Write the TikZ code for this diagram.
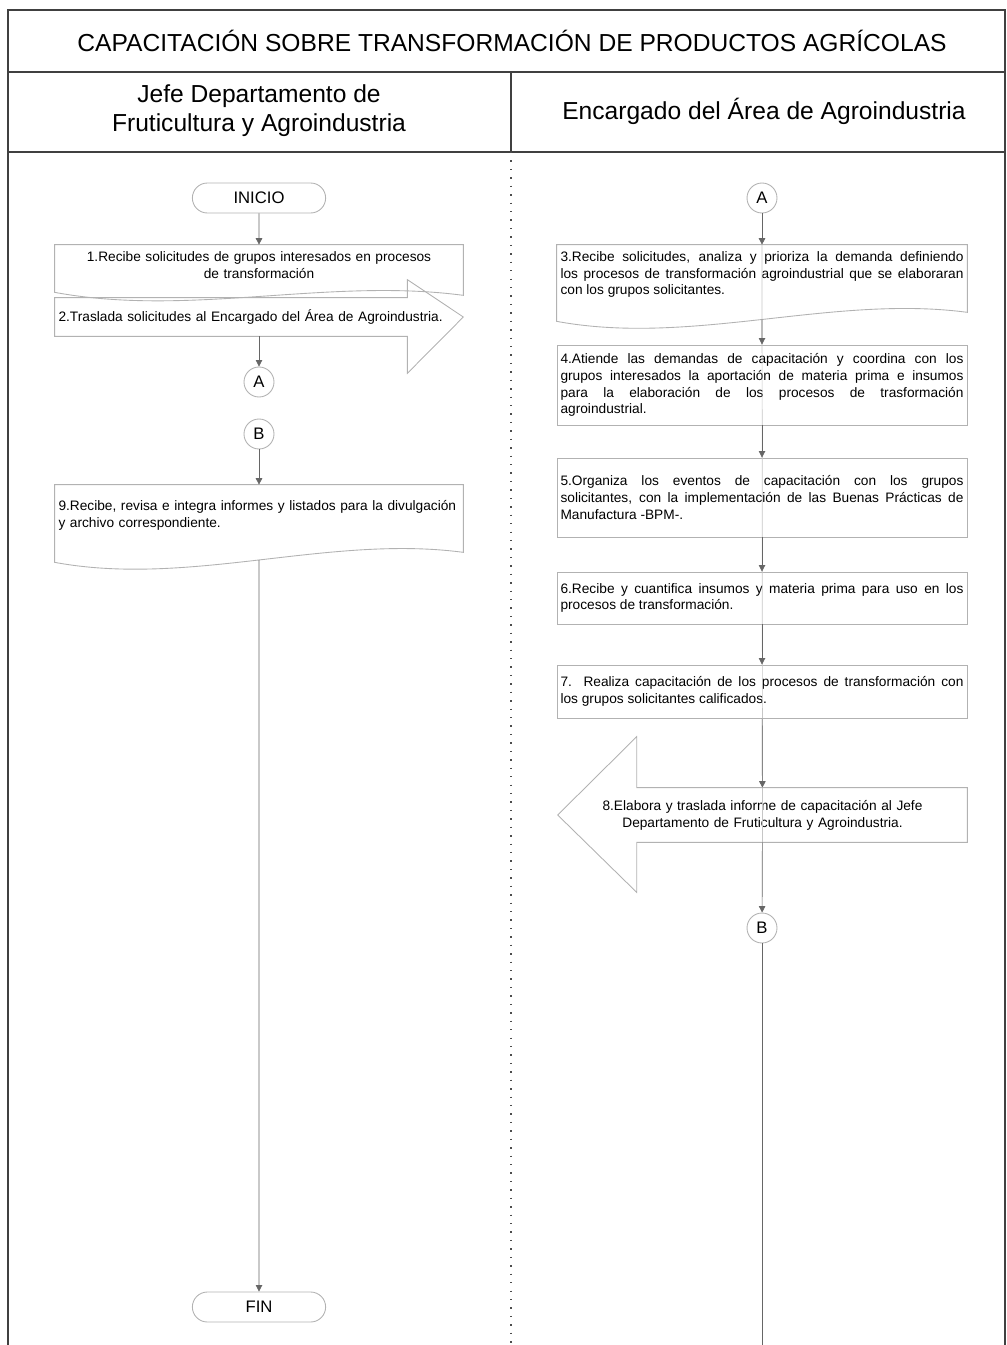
\documentclass[tikz,border=0pt]{standalone}
\usepackage{fontspec}
\setmainfont{Liberation Sans}
\usetikzlibrary{arrows.meta,calc,shapes.misc}

% document symbol: node outline with a wavy bottom edge
\newcommand{\docwave}[3]{%
  \draw[box] (#1.north west) -- (#1.north east) -- ($(#1.south east)+(0,#2)$)
    .. controls +(-135,-18) and +(135,25) .. ($(#1.south west)+(0,#3)$)
    coordinate[pos=0.5] (#1-w) -- cycle;}

\begin{document}
\begin{tikzpicture}[x=0.02cm, y=-0.02cm,
    frame/.style={draw=black!75, line width=0.9pt},
    divider/.style={draw=black!70, line width=0.8pt, dash pattern=on 0.8pt off 4pt},
    box/.style={draw=gray!60, line width=0.5pt},
    txt/.style={font=\fontsize{7.8}{9.6}\selectfont, inner xsep=2pt, inner ysep=0pt},
    lbox/.style={txt, minimum width=8.16cm, text width=8.02cm},
    rbox/.style={txt, minimum width=8.2cm, text width=8.06cm, align=justify},
    terminal/.style={box, rounded rectangle, minimum width=2.9cm, minimum height=0.6cm, font=\fontsize{9.5}{11}\selectfont},
    conn/.style={box, circle, minimum size=0.6cm, inner sep=0pt, font=\fontsize{9.5}{11}\selectfont},
    flow/.style={draw=gray!80!black, line width=0.4pt, -{Triangle[length=1.3mm,width=1.3mm]}},
    spine/.style={draw=gray!45, line width=0.4pt},
]
\useasboundingbox (0,0) rectangle (1007,1345);

% frame and lanes
\draw[frame] (8,1345) -- (8,10) -- (1005,10) -- (1005,1345);
\draw[frame] (8,72) -- (1005,72);
\draw[frame] (8,152) -- (1005,152);
\draw[frame] (511,72) -- (511,152);
\draw[divider] (511,152) -- (511,1345);

\node[font=\fontsize{14}{17}\selectfont] (title) at (512,41) {CAPACITACIÓN SOBRE TRANSFORMACIÓN DE PRODUCTOS AGRÍCOLAS};
\node[align=center, font=\fontsize{14}{16.4}\selectfont] (hleft) at (259,111) {Jefe Departamento de\\Fruticultura y Agroindustria};
\node[font=\fontsize{14}{16.4}\selectfont] (hright) at (764,111) {Encargado del Área de Agroindustria};

% left lane
\node[terminal] (inicio) at (259,198) {INICIO};
\node[lbox, align=center, minimum height=0.8cm] (l1) at (259,265) {1.Recibe solicitudes de grupos interesados en procesos\\de transformación};
\docwave{l1}{10}{7}
\node[lbox, align=left, minimum height=0.76cm] (l2) at (259,317) {2.Traslada solicitudes al Encargado del Área de Agroindustria.};
\draw[box] (l2.north west) -- ($(l2.north east)+(-56,0)$) -- ($(l2.north east)+(-56,-18)$)
  -- (l2.east) -- ($(l2.south east)+(-56,37)$) -- ($(l2.south east)+(-56,0)$) -- (l2.south west) -- cycle;
\node[conn] (la) at (259,382) {A};
\node[conn] (lb) at (259,434) {B};
\node[lbox, align=left, minimum height=1.22cm] (l9) at (259,515.5) {9.Recibe, revisa e integra informes y listados para la divulgación\\y archivo correspondiente.};
\docwave{l9}{6}{16}
\node[terminal] (fin) at (259,1307) {FIN};

% right lane
\node[conn] (ra) at (762,198) {A};
\node[rbox, minimum height=1.18cm] (r3) at (762,274.5) {3.Recibe solicitudes, analiza y prioriza la demanda definiendo\linebreak los procesos de transformación agroindustrial que se elaboraran\linebreak con los grupos solicitantes.};
\docwave{r3}{8}{17}
\node[rbox, box, minimum height=1.6cm] (r4) at (762,385) {4.Atiende las demandas de capacitación y coordina con los\linebreak grupos interesados la aportación de materia prima e insumos\linebreak para la elaboración de los procesos de trasformación\linebreak agroindustrial.};
\node[rbox, box, minimum height=1.58cm] (r5) at (762,497.5) {5.Organiza los eventos de capacitación con los grupos\linebreak solicitantes, con la implementación de las Buenas Prácticas de\linebreak Manufactura -BPM-.};
\node[rbox, box, minimum height=1.04cm] (r6) at (762,598) {6.Recibe y cuantifica insumos y materia prima para uso en los\linebreak procesos de transformación.};
\node[rbox, box, minimum height=1.06cm] (r7) at (762,691.5) {7. Realiza capacitación de los procesos de transformación con\linebreak los grupos solicitantes calificados.};
\node[txt, minimum width=8.18cm, text width=7.9cm, align=center, minimum height=1.08cm] (r8) at (762.5,815) {8.Elabora y traslada informe de capacitación al Jefe\\Departamento de Fruticultura y Agroindustria.};
\draw[box] (r8.north east) -- ($(r8.north west)+(79,0)$) -- ($(r8.north west)+(79,-51)$)
  -- (r8.west) -- ($(r8.south west)+(79,50)$) -- ($(r8.south west)+(79,0)$) -- (r8.south east) -- cycle;
\node[conn] (rb) at (762,928) {B};
\coordinate (rend) at (762,1345);

% connectors
\draw[spine] (r3.north) -- (r8.south);
\draw[flow] (inicio) -- (l1);
\draw[flow] (l2.south) -- (la);
\draw[flow] (lb) -- (l9);
\draw[flow] (l9-w) -- (fin);
\draw[flow] (ra) -- (r3);
\draw[flow] (r3-w) -- (r4);
\draw[flow] (r4) -- (r5);
\draw[flow] (r5) -- (r6);
\draw[flow] (r6) -- (r7);
\draw[flow] (r7) -- (r8);
\draw[flow] (r8) -- (rb);
\draw[draw=gray!80!black, line width=0.4pt] (rb) -- (rend);
\end{tikzpicture}
\end{document}
